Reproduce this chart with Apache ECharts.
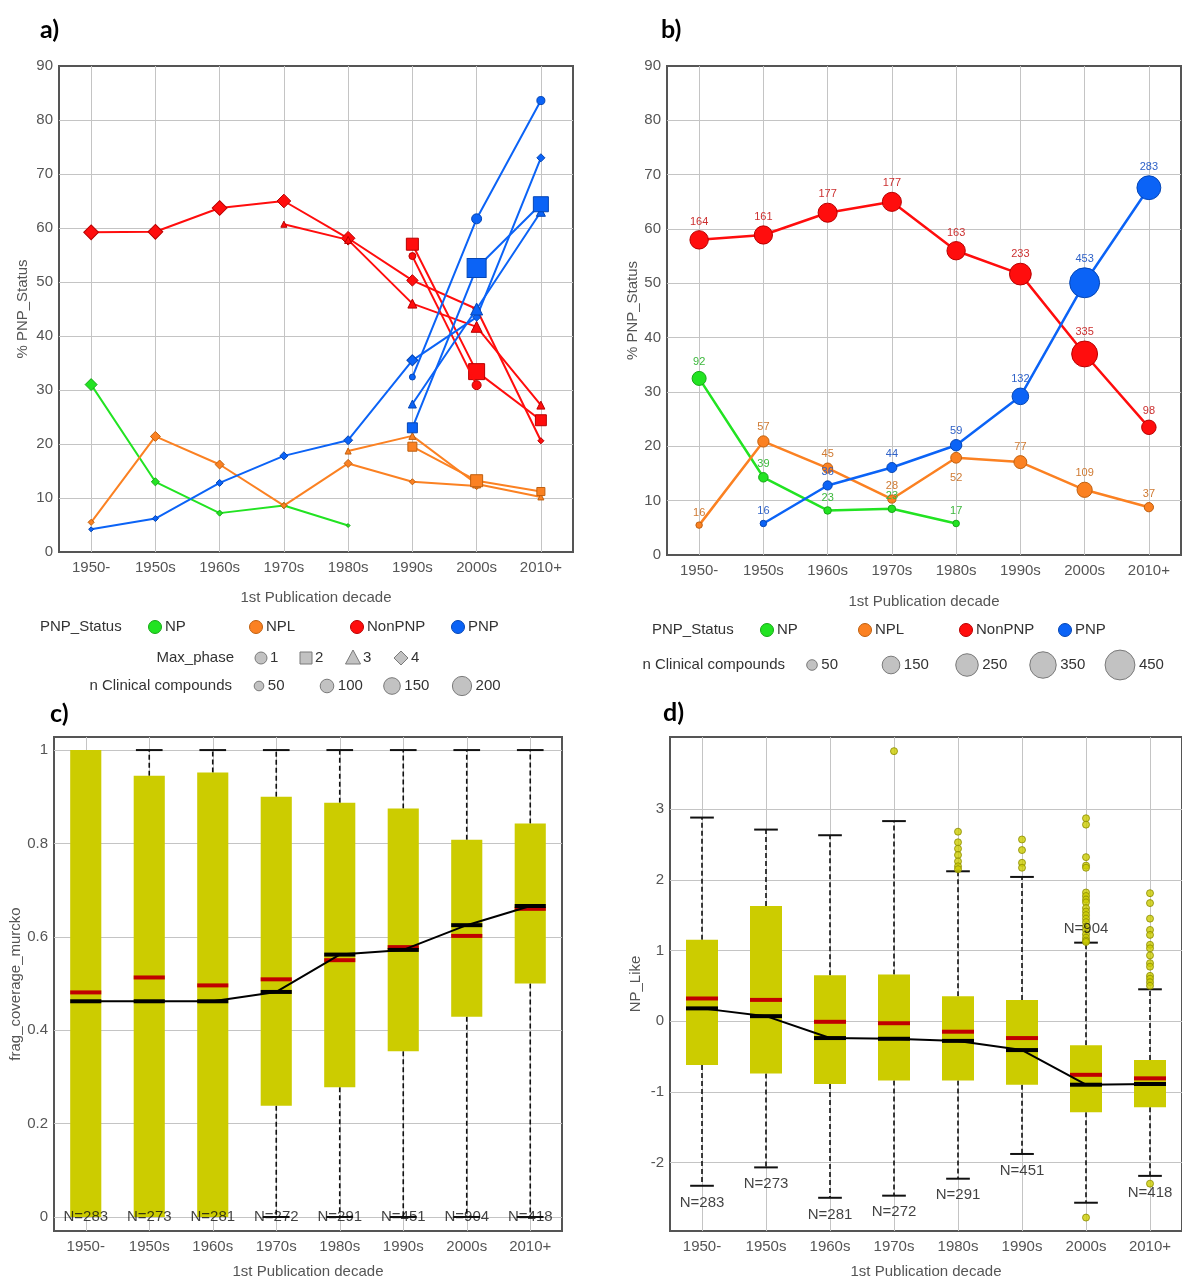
<!DOCTYPE html>
<html><head><meta charset="utf-8">
<script src="https://cdn.jsdelivr.net/npm/echarts@6/dist/echarts.min.js"></script>
<style>html,body{margin:0;padding:0;background:#fff}#c{width:1182px;height:1280px}</style>
</head><body><div id="c"></div>
<script>
// ---------------- DATA ----------------
const categories = ['1950-','1950s','1960s','1970s','1980s','1990s','2000s','2010+'];
const xTickValues = [0,1,2,3,4,5,6,7];

// Panel a) % PNP_Status per Max_phase, and n clinical compounds per point
const a_NP_ph4       = [31.0, 13.0, 7.2, 8.6, 4.9, null, null, null];
const a_NP_ph4_n     = [46, 21, 12, 12, 5, null, null, null];
const a_NPL_ph4      = [5.5, 21.4, 16.2, 8.6, 16.4, 13.0, 12.2, null];
const a_NPL_ph4_n    = [12, 32, 26, 12, 21, 12, 16, null];
const a_NPL_ph3      = [null, null, null, null, 18.7, 21.5, 12.6, 10.2];
const a_NPL_ph3_n    = [null, null, null, null, 15, 20, 26, 15];
const a_NPL_ph2      = [null, null, null, null, null, 19.5, 13.2, 11.2];
const a_NPL_ph2_n    = [null, null, null, null, null, 44, 78, 35];
const a_NonPNP_ph4   = [59.2, 59.3, 63.7, 65.0, 58.1, 50.3, 45.0, 20.6];
const a_NonPNP_ph4_n = [70, 70, 70, 60, 60, 42, 21, 12];
const a_NonPNP_ph3   = [null, null, null, 60.7, 57.8, 46.0, 41.7, 27.2];
const a_NonPNP_ph3_n = [null, null, null, 15, 20, 33, 49, 26];
const a_NonPNP_ph2   = [null, null, null, null, null, 57.0, 33.4, 24.4];
const a_NonPNP_ph2_n = [null, null, null, null, null, 78, 138, 65];
const a_NonPNP_ph1   = [null, null, null, null, null, 54.8, 30.9, null];
const a_NonPNP_ph1_n = [null, null, null, null, null, 26, 44, null];
const a_PNP_ph4      = [4.2, 6.2, 12.8, 17.8, 20.7, 35.5, 43.5, 73.0];
const a_PNP_ph4_n    = [8, 12, 16, 21, 26, 39, 21, 21];
const a_PNP_ph3      = [null, null, null, null, null, 27.4, 45.0, 63.0];
const a_PNP_ph3_n    = [null, null, null, null, null, 26, 59, 33];
const a_PNP_ph2      = [null, null, null, null, null, 23.0, 52.6, 64.4];
const a_PNP_ph2_n    = [null, null, null, null, null, 54, 195, 122];
const a_PNP_ph1      = [null, null, null, null, null, 32.4, 61.7, 83.6];
const a_PNP_ph1_n    = [null, null, null, null, null, 19, 54, 35];
const a_legendSizes  = [50, 100, 150, 200];

// Panel b) % PNP_Status, n clinical compounds
const b_NP       = [32.5, 14.3, 8.2, 8.5, 5.8, null, null, null];
const b_NP_n     = [92, 39, 23, 23, 17, null, null, null];
const b_NPL      = [5.5, 20.9, 16.0, 10.3, 17.9, 17.1, 12.0, 8.8];
const b_NPL_n    = [16, 57, 45, 28, 52, 77, 109, 37];
const b_NonPNP   = [58.0, 58.9, 63.0, 65.0, 56.0, 51.7, 37.0, 23.5];
const b_NonPNP_n = [164, 161, 177, 177, 163, 233, 335, 98];
const b_PNP      = [null, 5.8, 12.8, 16.1, 20.2, 29.2, 50.1, 67.6];
const b_PNP_n    = [null, 16, 36, 44, 59, 132, 453, 283];
const b_legendSizes = [50, 150, 250, 350, 450];

// Panel c) frag_coverage_murcko boxplots
const c_min  = [0, 0, 0, 0, 0, 0, 0, 0];
const c_q1   = [0, 0, 0, 0.238, 0.278, 0.355, 0.429, 0.500];
const c_med  = [0.462, 0.462, 0.462, 0.482, 0.562, 0.572, 0.625, 0.666];
const c_q3   = [1.000, 0.945, 0.952, 0.900, 0.887, 0.875, 0.808, 0.843];
const c_max  = [1, 1, 1, 1, 1, 1, 1, 1];
const c_mean = [0.481, 0.513, 0.496, 0.509, 0.550, 0.578, 0.602, 0.660];
const c_N    = [283, 273, 281, 272, 291, 451, 904, 418];
const c_NlabelY = [0, 0, 0, 0, 0, 0, 0, 0];
const c_ticks = [0, 0.2, 0.4, 0.6, 0.8, 1];

// Panel d) NP_Like boxplots
const d_min  = [-2.33, -2.07, -2.50, -2.47, -2.23, -1.88, -2.57, -2.19];
const d_q1   = [-0.62, -0.74, -0.89, -0.84, -0.84, -0.90, -1.29, -1.22];
const d_med  = [0.18, 0.07, -0.24, -0.25, -0.28, -0.41, -0.90, -0.89];
const d_q3   = [1.15, 1.63, 0.65, 0.66, 0.35, 0.30, -0.34, -0.55];
const d_max  = [2.88, 2.71, 2.63, 2.83, 2.12, 2.04, 1.11, 0.45];
const d_mean = [0.32, 0.30, -0.01, -0.03, -0.15, -0.24, -0.76, -0.81];
const d_N    = [283, 273, 281, 272, 291, 451, 904, 418];
const d_NlabelY = [-2.57, -2.31, -2.74, -2.70, -2.46, -2.12, 1.30, -2.43];
const d_outlierCat = [3, 4,4,4,4,4,4,4, 5,5,5,5,
  6,6,6,6,6,6,6,6,6,6,6,6,6,6,6,6,6,6,6,6,6,
  7,7,7,7,7,7,7,7,7,7,7,7,7,7,7];
const d_outlierVal = [3.82, 2.68,2.53,2.44,2.35,2.26,2.19,2.15, 2.57,2.42,2.24,2.17,
  2.87,2.78,2.32,2.20,2.17,1.82,1.77,1.72,1.68,1.60,1.55,1.50,1.45,1.40,1.34,1.29,1.23,1.18,1.14,1.12,-2.78,
  1.81,1.67,1.45,1.29,1.22,1.08,1.03,0.93,0.82,0.77,0.64,0.60,0.55,0.50,-2.30];
const d_ticks = [-2, -1, 0, 1, 2, 3];

// ---------------- STYLE ----------------
const FONT = '"Liberation Sans", Arial, sans-serif';
const COL = {NP:'#22e322', NPL:'#fb8122', NonPNP:'#ff0d0d', PNP:'#0b63f6'};
const BRD = {NP:'#17a817', NPL:'#c0600f', NonPNP:'#b80000', PNP:'#0546b5'};
const LBL = {NP:'#3cb83c', NPL:'#cf7a32', NonPNP:'#cc3030', PNP:'#2f62c8'};
const SHAPE = {1:'circle', 2:'rect', 3:'triangle', 4:'diamond'};
const SHAPE_F = {1:1, 2:1, 3:1.15, 4:1.3};
const GRIDC = '#c4c4c4';
const TXT = '#555';
const BOXC = '#cccc00';

function pairs(vals){ const o=[]; vals.forEach((v,i)=>{ if(v!==null) o.push([i,v]); }); return o; }

const series = [];

// Panel a
const aDefs = [
  ['NP',4,a_NP_ph4,a_NP_ph4_n],
  ['NPL',4,a_NPL_ph4,a_NPL_ph4_n],['NPL',3,a_NPL_ph3,a_NPL_ph3_n],['NPL',2,a_NPL_ph2,a_NPL_ph2_n],
  ['NonPNP',4,a_NonPNP_ph4,a_NonPNP_ph4_n],['NonPNP',3,a_NonPNP_ph3,a_NonPNP_ph3_n],
  ['NonPNP',2,a_NonPNP_ph2,a_NonPNP_ph2_n],['NonPNP',1,a_NonPNP_ph1,a_NonPNP_ph1_n],
  ['PNP',4,a_PNP_ph4,a_PNP_ph4_n],['PNP',3,a_PNP_ph3,a_PNP_ph3_n],
  ['PNP',2,a_PNP_ph2,a_PNP_ph2_n],['PNP',1,a_PNP_ph1,a_PNP_ph1_n]
];
aDefs.forEach(([st, ph, vals, ns], k) => {
  series.push({
    type:'line', xAxisIndex:0, yAxisIndex:0, data: pairs(vals),
    symbol: SHAPE[ph], showAllSymbol:true,
    symbolSize: v => 1.36*Math.sqrt(ns[v[0]])*SHAPE_F[ph],
    lineStyle:{color:COL[st], width:2},
    itemStyle:{color:COL[st], borderColor:BRD[st], borderWidth:1},
    z: 2 + k*0.01, silent:true, animation:false
  });
});

// Panel b
const bDefs = [['NP',b_NP,b_NP_n],['NPL',b_NPL,b_NPL_n],['NonPNP',b_NonPNP,b_NonPNP_n],['PNP',b_PNP,b_PNP_n]];
const bSize = n => 1.36*Math.sqrt(n) + 1;
bDefs.forEach(([st, vals, ns]) => {
  const data = pairs(vals).map(p => {
    if (st === 'NPL' && p[0] === 4) return {value:p, label:{position:'bottom', distance:9}};
    return {value:p};
  });
  series.push({
    type:'line', xAxisIndex:1, yAxisIndex:1, data,
    symbol:'circle', showAllSymbol:true,
    symbolSize: v => bSize(ns[v[0]]),
    lineStyle:{color:COL[st], width:2.5},
    itemStyle:{color:COL[st], borderColor:BRD[st], borderWidth:1},
    label:{show:true, position:'top', distance:3, fontSize:11, fontFamily:FONT, color:LBL[st],
      formatter: p => String(ns[p.value[0]])},
    silent:true, animation:false
  });
});

// Box plot renderer
function boxRender(boxFrac, capFrac){
  return function(params, api){
    const x = api.value(0);
    const band = api.size([1,0])[0];
    const bw = band*boxFrac, cw = band*capFrac;
    const P = v => api.coord([x, v]);
    const cx = P(api.value(3))[0];
    const yMin=P(api.value(1))[1], yQ1=P(api.value(2))[1], yMed=P(api.value(3))[1],
          yQ3=P(api.value(4))[1], yMax=P(api.value(5))[1], yMean=P(api.value(6))[1];
    const ch = [];
    const dash = {stroke:'#111', lineWidth:1.6, lineDash:[5,3], fill:null};
    const solid = {stroke:'#111', lineWidth:2, fill:null};
    if (yQ3 - yMax > 0.5) {
      ch.push({type:'line', shape:{x1:cx,y1:yQ3,x2:cx,y2:yMax}, style:dash});
      ch.push({type:'line', shape:{x1:cx-cw/2,y1:yMax,x2:cx+cw/2,y2:yMax}, style:solid});
    }
    if (yMin - yQ1 > 0.5) {
      ch.push({type:'line', shape:{x1:cx,y1:yQ1,x2:cx,y2:yMin}, style:dash});
      ch.push({type:'line', shape:{x1:cx-cw/2,y1:yMin,x2:cx+cw/2,y2:yMin}, style:solid});
    }
    ch.push({type:'rect', shape:{x:cx-bw/2, y:yQ3, width:bw, height:yQ1-yQ3}, style:{fill:BOXC, stroke:null}});
    ch.push({type:'line', shape:{x1:cx-bw/2,y1:yMean,x2:cx+bw/2,y2:yMean}, style:{stroke:'#c00000', lineWidth:4}});
    ch.push({type:'line', shape:{x1:cx-bw/2,y1:yMed,x2:cx+bw/2,y2:yMed}, style:{stroke:'#000', lineWidth:4}});
    return {type:'group', children:ch};
  };
}
function boxData(mn,q1,md,q3,mx,me){ return categories.map((c,i)=>[i,mn[i],q1[i],md[i],q3[i],mx[i],me[i]]); }
function nLabels(ax, ys, ns){
  return {type:'scatter', xAxisIndex:ax, yAxisIndex:ax, data: ys.map((y,i)=>[i,y]),
    symbolSize:1, itemStyle:{color:'rgba(0,0,0,0)'},
    label:{show:true, position:'inside', fontSize:15, fontFamily:FONT, color:'#111',
      formatter: p => 'N=' + ns[p.value[0]]},
    z:6, silent:true, animation:false};
}

// Panel c
series.push({type:'custom', xAxisIndex:2, yAxisIndex:2, data: boxData(c_min,c_q1,c_med,c_q3,c_max,c_mean),
  encode:{x:0, y:[1,2,3,4,5,6]}, renderItem: boxRender(0.49, 0.42), z:2, silent:true, animation:false});
series.push({type:'line', xAxisIndex:2, yAxisIndex:2, data: pairs(c_med), symbol:'none',
  lineStyle:{color:'#000', width:2}, z:3, silent:true, animation:false});
series.push(nLabels(2, c_NlabelY, c_N));

// Panel d
series.push({type:'custom', xAxisIndex:3, yAxisIndex:3, data: boxData(d_min,d_q1,d_med,d_q3,d_max,d_mean),
  encode:{x:0, y:[1,2,3,4,5,6]}, renderItem: boxRender(0.5, 0.37), z:2, silent:true, animation:false});
series.push({type:'line', xAxisIndex:3, yAxisIndex:3, data: pairs(d_med), symbol:'none',
  lineStyle:{color:'#000', width:2}, z:3, silent:true, animation:false});
series.push({type:'scatter', xAxisIndex:3, yAxisIndex:3, data: d_outlierVal.map((v,i)=>[d_outlierCat[i], v]),
  symbol:'circle', symbolSize:7, itemStyle:{color:BOXC, borderColor:'#8c8c00', borderWidth:1}, z:4, silent:true, animation:false});
series.push(nLabels(3, d_NlabelY, d_N));

// ---------------- AXES ----------------
const grids = [
  {left:59, top:66, width:514, height:486},
  {left:667, top:66, width:514, height:489},
  {left:54, top:737, width:508, height:495},
  {left:670, top:737, width:514, height:495}
].map(g => Object.assign(g, {show:true, borderColor:'#555', borderWidth:2, backgroundColor:'#fff', containLabel:false}));

function xAx(gi, gap){
  return {type:'value', gridIndex:gi, min:-0.5, max:7.5,
    name:'1st Publication decade', nameLocation:'middle', nameGap:gap,
    nameTextStyle:{fontSize:15, color:TXT, fontFamily:FONT},
    axisLine:{show:false}, axisTick:{show:false, customValues:xTickValues},
    axisLabel:{customValues:xTickValues, formatter: v => categories[Math.round(v)], fontSize:15, color:TXT, fontFamily:FONT, margin:8},
    splitLine:{show:true, lineStyle:{color:GRIDC, width:1}}};
}
function yAx(gi, name, gap, min, max, labelVals, tickVals, fmt){
  return {type:'value', gridIndex:gi, min, max,
    name, nameLocation:'middle', nameGap:gap, nameRotate:90,
    nameTextStyle:{fontSize:15, color:TXT, fontFamily:FONT},
    axisLine:{show:false}, axisTick:{show:false, customValues:tickVals},
    axisLabel:{customValues:labelVals, formatter:fmt, fontSize:15, color:TXT, fontFamily:FONT, margin:6},
    splitLine:{show:true, lineStyle:{color:GRIDC, width:1}}};
}
const pctLabels = [0,10,20,30,40,50,60,70,80,90];
const pctTicks = [10,20,30,40,50,60,70,80];
const fmtNum = v => String(+(+v).toFixed(2));

// ---------------- LEGENDS (graphic) ----------------
const G = [];
function gText(x, y, text, align, extra){ G.push({type:'text', x, y, silent:true,
  style:Object.assign({text, fontSize:15, fontFamily:FONT, fill:'#333', align:align||'left', verticalAlign:'middle'}, extra||{})}); }
function gCircle(x, y, r, fill, stroke){ G.push({type:'circle', silent:true, shape:{cx:x, cy:y, r}, style:{fill, stroke, lineWidth:1}}); }
const LG_FILL = '#c2c2c2', LG_STROKE = '#7a7a7a';

// panel letters
const LETTER = {fontSize:25, fontWeight:'bold', fill:'#000', fontFamily:'Lato, "Liberation Sans", sans-serif'};
gText(40, 30, 'a)', 'left', LETTER);
gText(661, 30, 'b)', 'left', LETTER);
gText(50, 714, 'c)', 'left', LETTER);
gText(663, 713, 'd)', 'left', LETTER);

const statusNames = ['NP','NPL','NonPNP','PNP'];
// panel a legend
gText(40, 627, 'PNP_Status');
[155,256,357,458].forEach((x,i)=>{ gCircle(x, 627, 6.5, COL[statusNames[i]], BRD[statusNames[i]]); gText(x+10, 627, statusNames[i]); });
gText(234, 658, 'Max_phase', 'right');
gCircle(261, 658, 6, LG_FILL, LG_STROKE); gText(270, 658, '1');
G.push({type:'rect', silent:true, shape:{x:300, y:652, width:12, height:12}, style:{fill:LG_FILL, stroke:LG_STROKE, lineWidth:1}}); gText(315, 658, '2');
G.push({type:'polygon', silent:true, shape:{points:[[353,650],[345.5,664],[360.5,664]]}, style:{fill:LG_FILL, stroke:LG_STROKE, lineWidth:1}}); gText(363, 658, '3');
G.push({type:'polygon', silent:true, shape:{points:[[401,651],[408,658],[401,665],[394,658]]}, style:{fill:LG_FILL, stroke:LG_STROKE, lineWidth:1}}); gText(411, 658, '4');
gText(232, 686, 'n Clinical compounds', 'right');
[259,327,392,462].forEach((x,i)=>{ const r = 1.36*Math.sqrt(a_legendSizes[i])/2; gCircle(x, 686, r, LG_FILL, LG_STROKE); gText(x+r+4, 686, String(a_legendSizes[i])); });

// panel b legend
gText(652, 630, 'PNP_Status');
[767,865,966,1065].forEach((x,i)=>{ gCircle(x, 630, 6.5, COL[statusNames[i]], BRD[statusNames[i]]); gText(x+10, 630, statusNames[i]); });
gText(785, 665, 'n Clinical compounds', 'right');
[812,891,967,1043,1120].forEach((x,i)=>{ const r = bSize(b_legendSizes[i])/2; gCircle(x, 665, r, LG_FILL, LG_STROKE); gText(x+r+4, 665, String(b_legendSizes[i])); });

const option = {
  animation:false,
  backgroundColor:'#fff',
  textStyle:{fontFamily:FONT},
  grid: grids,
  xAxis: [xAx(0, 38), xAx(1, 39), xAx(2, 33), xAx(3, 33)],
  yAxis: [
    yAx(0, '% PNP_Status', 29, 0, 90, pctLabels, pctTicks, fmtNum),
    yAx(1, '% PNP_Status', 27, 0, 90, pctLabels, pctTicks, fmtNum),
    yAx(2, 'frag_coverage_murcko', 31, -0.03, 1.028, c_ticks, c_ticks, fmtNum),
    yAx(3, 'NP_Like', 27, -2.97, 4.02, d_ticks, d_ticks, fmtNum)
  ],
  series,
  graphic: G
};
const chart = echarts.init(document.getElementById('c'), null, {renderer:'canvas'});
chart.setOption(option);
</script></body></html>
